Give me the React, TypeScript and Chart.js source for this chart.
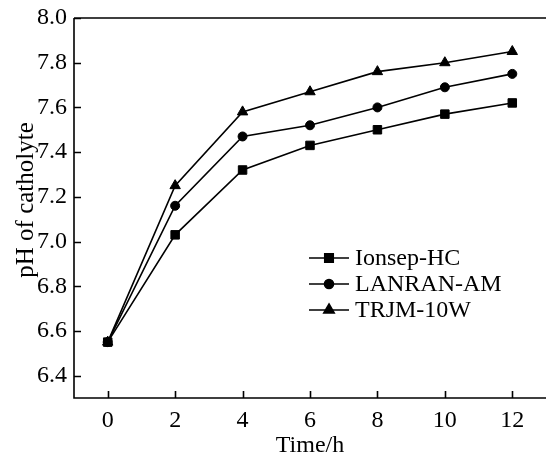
import React, { useEffect, useRef } from "react";
import { Chart, registerables } from "chart.js";
import { drawPoint } from "chart.js/helpers";

Chart.register(...registerables);

// ---- data ----
const timeH = [0, 2, 4, 6, 8, 10, 12];
const ionsepHC = [6.55, 7.03, 7.32, 7.43, 7.5, 7.57, 7.62];
const lanranAM = [6.55, 7.16, 7.47, 7.52, 7.6, 7.69, 7.75];
const trjm10W = [6.55, 7.25, 7.58, 7.67, 7.76, 7.8, 7.85];
const seriesNames = ["Ionsep-HC", "LANRAN-AM", "TRJM-10W"];
const xTickValues = [0, 2, 4, 6, 8, 10, 12];
const yTickValues = [6.4, 6.6, 6.8, 7.0, 7.2, 7.4, 7.6, 7.8, 8.0];
const xRange = [-1, 13];
const yRange = [6.3, 8.0];
const xTitle = "Time/h";
const yTitle = "pH of catholyte";

const FONT = "'Liberation Serif', 'Times New Roman', serif";
const FS = 24;

const frameLegendPlugin = {
  id: "frameLegend",
  beforeDatasetsDraw(chart: any) {
    const { ctx, chartArea: a, scales } = chart;
    ctx.save();
    ctx.strokeStyle = "#000";
    ctx.lineWidth = 1.6;
    ctx.beginPath();
    ctx.moveTo(a.left, a.top);
    ctx.lineTo(a.right + 2, a.top);
    ctx.moveTo(a.left, a.top);
    ctx.lineTo(a.left, a.bottom);
    ctx.lineTo(a.right + 2, a.bottom);
    scales.x.ticks.forEach((t: any) => {
      const px = Math.round(scales.x.getPixelForValue(t.value)) + 0.5;
      ctx.moveTo(px, a.bottom);
      ctx.lineTo(px, a.bottom - 7);
    });
    scales.y.ticks.forEach((t: any) => {
      const py = Math.round(scales.y.getPixelForValue(t.value)) + 0.5;
      ctx.moveTo(a.left, py);
      ctx.lineTo(a.left + 7, py);
    });
    ctx.stroke();
    // y axis title
    ctx.fillStyle = "#000";
    ctx.font = `${FS + 1}px ${FONT}`;
    ctx.textAlign = "center";
    ctx.textBaseline = "middle";
    ctx.translate(26, (a.top + a.bottom) / 2 - 8);
    ctx.rotate(-Math.PI / 2);
    ctx.fillText(yTitle, 0, 0);
    ctx.restore();
  },
  afterDraw(chart: any) {
    const { ctx, chartArea: a } = chart;
    const x0 = a.left + 235;
    const y0 = a.top + 240;
    const rowH = 26;
    ctx.save();
    chart.data.datasets.forEach((ds: any, i: number) => {
      const y = y0 + i * rowH;
      ctx.strokeStyle = "#000";
      ctx.lineWidth = 1.6;
      ctx.beginPath();
      ctx.moveTo(x0, y);
      ctx.lineTo(x0 + 40, y);
      ctx.stroke();
      ctx.fillStyle = "#000";
      drawPoint(
        ctx,
        { pointStyle: ds.pointStyle, radius: ds.pointRadius, rotation: 0, borderWidth: 1 },
        x0 + 20,
        y
      );
      ctx.font = `${FS}px ${FONT}`;
      ctx.textBaseline = "middle";
      ctx.textAlign = "left";
      ctx.fillText(ds.label, x0 + 46, y + 1);
    });
    ctx.restore();
  },
};

export default function App() {
  const ref = useRef<HTMLCanvasElement>(null);
  useEffect(() => {
    if (!ref.current) return;
    const mk = (label: string, data: number[], style: string, r: number) => ({
      label,
      data: timeH.map((t, i) => ({ x: t, y: data[i] })),
      borderColor: "#000",
      backgroundColor: "#000",
      pointBackgroundColor: "#000",
      pointBorderColor: "#000",
      pointBorderWidth: 1,
      borderWidth: 1.6,
      pointStyle: style,
      pointRadius: r,
      tension: 0,
      clip: false,
    });
    const chart = new Chart(ref.current, {
      type: "line",
      data: {
        datasets: [
          mk(seriesNames[0], ionsepHC, "rect", 6),
          mk(seriesNames[1], lanranAM, "circle", 4.5),
          mk(seriesNames[2], trjm10W, "triangle", 6),
        ],
      },
      options: {
        animation: false,
        responsive: false,
        devicePixelRatio: 1,
        layout: { autoPadding: false, padding: { left: 0, right: 0, top: 18, bottom: 0 } },
        plugins: { legend: { display: false }, tooltip: { enabled: false } },
        scales: {
          x: {
            type: "linear",
            min: xRange[0],
            max: xRange[1],
            afterBuildTicks: (s: any) => {
              s.ticks = xTickValues.map((v) => ({ value: v }));
            },
            afterFit: (s: any) => {
              s.height = 54;
              s.paddingLeft = 0;
              s.paddingRight = 0;
            },
            grid: { display: false, drawTicks: false },
            border: { display: false },
            ticks: {
              color: "#000",
              font: { family: FONT, size: FS },
              padding: 8,
              maxRotation: 0,
              callback: (v: any) => String(v),
            },
            title: {
              display: true,
              text: xTitle,
              color: "#000",
              font: { family: FONT, size: FS },
              padding: { top: 0, bottom: -8 },
            },
          },
          y: {
            type: "linear",
            min: yRange[0],
            max: yRange[1],
            afterBuildTicks: (s: any) => {
              s.ticks = yTickValues.map((v) => ({ value: v }));
            },
            afterFit: (s: any) => {
              s.width = 74;
              s.paddingTop = 0;
              s.paddingBottom = 0;
            },
            grid: { display: false, drawTicks: false },
            border: { display: false },
            ticks: {
              color: "#000",
              font: { family: FONT, size: FS },
              padding: 7,
              callback: (v: any) => Number(v).toFixed(1),
            },
            title: { display: false },
          },
        },
      },
      plugins: [frameLegendPlugin],
    } as any);
    return () => chart.destroy();
  }, []);
  return (
    <div style={{ position: "fixed", left: 0, top: 0, width: 546, height: 452, background: "#fff" }}>
      <canvas ref={ref} width={546} height={452} style={{ display: "block" }} />
    </div>
  );
}
